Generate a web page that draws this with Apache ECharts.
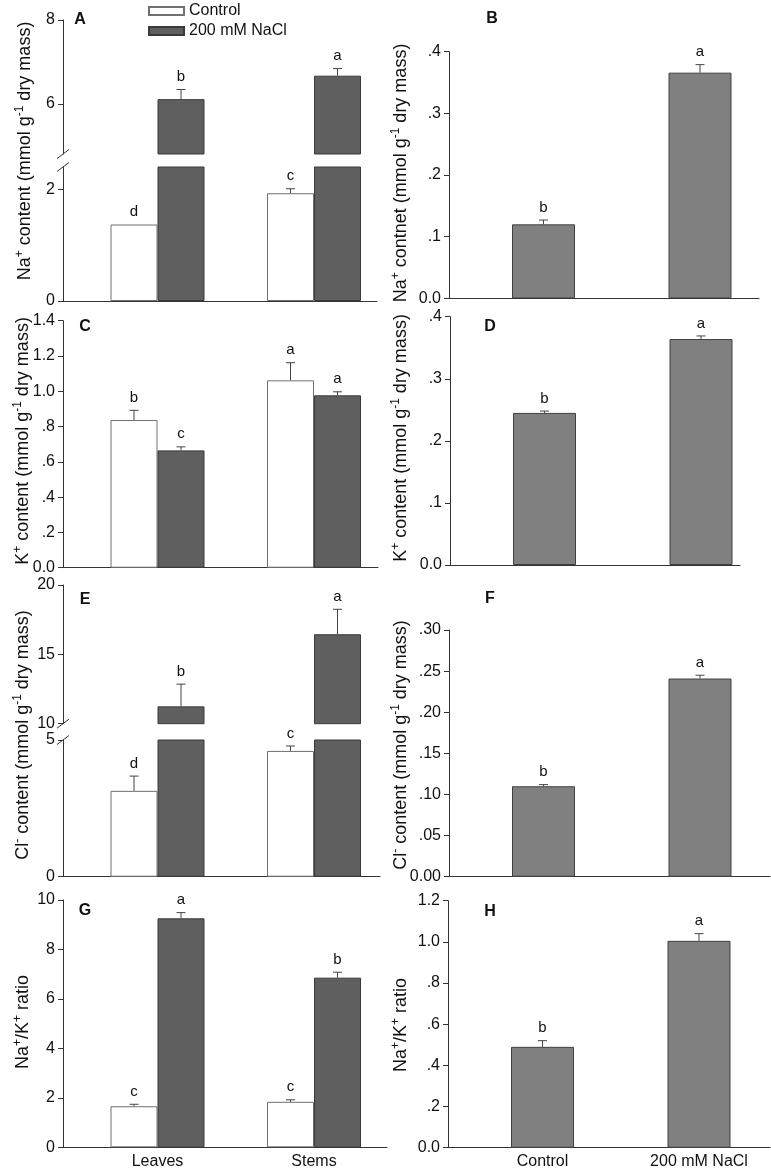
<!DOCTYPE html>
<html><head><meta charset="utf-8">
<script src="https://cdn.jsdelivr.net/npm/echarts@6/dist/echarts.min.js"></script>
<style>html,body{margin:0;padding:0;background:#fff}#c{width:771px;height:1171px}</style>
</head><body><div id="c"></div>
<script>
// ---------------- data ----------------
const organs = ['Leaves', 'Stems'];
const treatments = ['Control', '200 mM NaCl'];

// A: Na+ content in leaves / stems
const naControl = [1.37, 1.93];
const naControlErr = [0.0, 0.08];
const naControlLetters = ['d', 'c'];
const naSalt = [6.11, 6.67];
const naSaltErr = [0.23, 0.17];
const naSaltLetters = ['b', 'a'];
// B: Na+ content (whole), control vs NaCl
const naWhole = [0.120, 0.366];
const naWholeErr = [0.007, 0.013];
const naWholeLetters = ['b', 'a'];
// C: K+ content
const kControl = [0.837, 1.062];
const kControlErr = [0.055, 0.10];
const kControlLetters = ['b', 'a'];
const kSalt = [0.665, 0.977];
const kSaltErr = [0.02, 0.02];
const kSaltLetters = ['c', 'a'];
// D
const kWhole = [0.245, 0.364];
const kWholeErr = [0.003, 0.005];
const kWholeLetters = ['b', 'a'];
// E: Cl- content
const clControl = [3.14, 4.60];
const clControlErr = [0.54, 0.18];
const clControlLetters = ['d', 'c'];
const clSalt = [11.25, 16.45];
const clSaltErr = [1.6, 1.8];
const clSaltLetters = ['b', 'a'];
// F
const clWhole = [0.110, 0.241];
const clWholeErr = [0.002, 0.004];
const clWholeLetters = ['b', 'a'];
// G: Na+/K+ ratio
const ratioControl = [1.66, 1.84];
const ratioControlErr = [0.08, 0.08];
const ratioControlLetters = ['c', 'c'];
const ratioSalt = [9.26, 6.86];
const ratioSaltErr = [0.23, 0.22];
const ratioSaltLetters = ['a', 'b'];
// H
const ratioWhole = [0.49, 1.005];
const ratioWholeErr = [0.03, 0.035];
const ratioWholeLetters = ['b', 'a'];

// tick values
const ticksAUpper = [6, 8];
const ticksALower = [0, 2];
const ticksB = [0, 0.1, 0.2, 0.3, 0.4];
const ticksC = [0, 0.2, 0.4, 0.6, 0.8, 1.0, 1.2, 1.4];
const ticksD = [0, 0.1, 0.2, 0.3, 0.4];
const ticksEUpper = [10, 15, 20];
const ticksELower = [0, 5];
const ticksF = [0, 0.05, 0.10, 0.15, 0.20, 0.25, 0.30];
const ticksG = [0, 2, 4, 6, 8, 10];
const ticksH = [0, 0.2, 0.4, 0.6, 0.8, 1.0, 1.2];

// ---------------- styling ----------------
const FONT = '"Liberation Sans", Arial, sans-serif';
const TXT = '#111';
const AX = '#333';
const UNIT = 156.5;      // px per category step
const FIRST = 94.5;      // px from y axis to first category centre
const STY = {
  control: {color: '#ffffff', borderColor: '#707070', borderWidth: 1},
  salt: {color: '#5f5f5f', borderColor: '#3a3a3a', borderWidth: 1},
  whole: {color: '#808080', borderColor: '#404040', borderWidth: 1}
};

const nameNa = 'Na{sup|+} content (mmol g{sup|-1} dry mass)';
const nameNaB = 'Na{sup|+} contnet (mmol g{sup|-1} dry mass)';
const nameK = 'K{sup|+} content (mmol g{sup|-1} dry mass)';
const nameCl = 'Cl{sup|-} content (mmol g{sup|-1} dry mass)';
const nameR = 'Na{sup|+}/K{sup|+} ratio';

const panels = [
  {id: 'A', left: 63, width: 314, dec: 0, bw: 47, lab: [80, 20], name: nameNa, nameXY: [25, 151],
   segs: [{top: 20, height: 134, min: 4.8, max: 8, ticks: ticksAUpper},
          {top: 167, height: 134, min: 0, max: 2.4, ticks: ticksALower}],
   series: [{name: treatments[0], v: naControl, e: naControlErr, l: naControlLetters, s: STY.control},
            {name: treatments[1], v: naSalt, e: naSaltErr, l: naSaltLetters, s: STY.salt}]},
  {id: 'B', left: 449, width: 310, dec: 1, bw: 63, lab: [492, 19], name: nameNaB, nameXY: [401, 173],
   segs: [{top: 51.7, height: 246.6, min: 0, max: 0.4, ticks: ticksB}],
   series: [{name: 'whole', v: naWhole, e: naWholeErr, l: naWholeLetters, s: STY.whole}]},
  {id: 'C', left: 63, width: 315, dec: 1, bw: 47, lab: [85, 327], name: nameK, nameXY: [23, 441],
   segs: [{top: 320.7, height: 247, min: 0, max: 1.4, ticks: ticksC}],
   series: [{name: treatments[0], v: kControl, e: kControlErr, l: kControlLetters, s: STY.control},
            {name: treatments[1], v: kSalt, e: kSaltErr, l: kSaltLetters, s: STY.salt}]},
  {id: 'D', left: 450, width: 290, dec: 1, bw: 63, lab: [490, 327], name: nameK, nameXY: [401, 438],
   segs: [{top: 316.7, height: 248.3, min: 0, max: 0.4, ticks: ticksD}],
   series: [{name: 'whole', v: kWhole, e: kWholeErr, l: kWholeLetters, s: STY.whole}]},
  {id: 'E', left: 63, width: 317, dec: 0, bw: 47, lab: [85, 600], name: nameCl, nameXY: [23, 735],
   segs: [{top: 585, height: 138.7, min: 10, max: 20, ticks: ticksEUpper},
          {top: 740, height: 136.7, min: 0, max: 5, ticks: ticksELower}],
   series: [{name: treatments[0], v: clControl, e: clControlErr, l: clControlLetters, s: STY.control},
            {name: treatments[1], v: clSalt, e: clSaltErr, l: clSaltLetters, s: STY.salt}]},
  {id: 'F', left: 449, width: 321, dec: 2, bw: 63, lab: [490, 599], name: nameCl, nameXY: [401, 745],
   segs: [{top: 630, height: 246.7, min: 0, max: 0.30, ticks: ticksF}],
   series: [{name: 'whole', v: clWhole, e: clWholeErr, l: clWholeLetters, s: STY.whole}]},
  {id: 'G', left: 63, width: 324, dec: 0, bw: 47, lab: [85, 911], name: nameR, nameXY: [23, 1022], xcats: organs,
   segs: [{top: 900, height: 247.3, min: 0, max: 10, ticks: ticksG}],
   series: [{name: treatments[0], v: ratioControl, e: ratioControlErr, l: ratioControlLetters, s: STY.control},
            {name: treatments[1], v: ratioSalt, e: ratioSaltErr, l: ratioSaltLetters, s: STY.salt}]},
  {id: 'H', left: 448, width: 322, dec: 1, bw: 63, lab: [490, 912], name: nameR, nameXY: [401, 1025], xcats: treatments,
   segs: [{top: 900.7, height: 247, min: 0, max: 1.2, ticks: ticksH}],
   series: [{name: 'whole', v: ratioWhole, e: ratioWholeErr, l: ratioWholeLetters, s: STY.whole}]}
];

function fmt(v, dec) {
  if (Math.abs(v) < 1e-9) return (0).toFixed(dec);
  const s = v.toFixed(dec);
  return Math.abs(v) < 1 ? s.replace(/^0/, '') : s;
}

const grids = [], xAxes = [], yAxes = [], series = [];
const breaks = [];
panels.forEach(p => {
  const xMin = 1 - FIRST / UNIT;
  const xMax = xMin + p.width / UNIT;
  const n = p.series.length;
  p.gridIdx = [];
  p.segs.forEach((sg, si) => {
    const gi = grids.length;
    p.gridIdx.push(gi);
    const isBottom = si === p.segs.length - 1;
    grids.push({left: p.left, top: sg.top, width: p.width, height: sg.height, containLabel: false});
    xAxes.push({
      type: 'value', gridIndex: gi, min: xMin, max: xMax, show: true,
      axisLine: {show: isBottom, onZero: false, lineStyle: {color: AX, width: 1}},
      axisTick: {show: false}, splitLine: {show: false},
      axisLabel: p.xcats && isBottom ? {
        show: true, customValues: [1, 2], margin: 6,
        formatter: v => p.xcats[Math.round(v) - 1],
        fontFamily: FONT, fontSize: 16, color: TXT
      } : {show: false}
    });
    yAxes.push({
      type: 'value', gridIndex: gi, min: sg.min, max: sg.max,
      axisLine: {show: true, lineStyle: {color: AX, width: 1}},
      axisTick: {show: true, customValues: sg.ticks, length: 5, inside: false, lineStyle: {color: AX}},
      axisLabel: {show: true, customValues: sg.ticks, margin: 8, formatter: v => fmt(v, p.dec),
                  fontFamily: FONT, fontSize: 16, color: TXT},
      splitLine: {show: false}
    });
    p.series.forEach((s, k) => {
      series.push({
        type: 'bar', name: s.name, xAxisIndex: gi, yAxisIndex: gi,
        data: s.v.map((v, i) => [i + 1, v]),
        barWidth: p.bw, barGap: '0%', itemStyle: s.s, clip: true, silent: true
      });
      // error bars + letters for bars whose top lies in this segment
      const off = (k - (n - 1) / 2) * p.bw;
      const pts = [], lets = [];
      s.v.forEach((v, i) => {
        if (v >= sg.min && v <= sg.max) { pts.push([i + 1, v, s.e[i]]); lets.push(s.l[i]); }
      });
      if (pts.length) {
        series.push({
          type: 'custom', name: 'err-' + p.id + si + k, xAxisIndex: gi, yAxisIndex: gi,
          data: pts, clip: false, silent: true, z: 5,
          renderItem: (params, api) => {
            const x = api.value(0), v = api.value(1), e = api.value(2);
            const a = api.coord([x, v]), b = api.coord([x, v + e]);
            const cx = a[0] + off;
            const kids = [];
            if (e > 0) {
              kids.push({type: 'line', shape: {x1: cx, y1: a[1], x2: cx, y2: b[1]}, style: {stroke: '#444', lineWidth: 1}});
              kids.push({type: 'line', shape: {x1: cx - 4.5, y1: b[1], x2: cx + 4.5, y2: b[1]}, style: {stroke: '#444', lineWidth: 1}});
            }
            kids.push({type: 'text', x: cx, y: b[1] - 5, style: {text: lets[params.dataIndex], fill: TXT,
                fontFamily: FONT, fontSize: 15, align: 'center', verticalAlign: 'bottom'}});
            return {type: 'group', children: kids};
          }
        });
      }
    });
  });
  if (p.segs.length === 2) breaks.push(p);
});

const chart = echarts.init(document.getElementById('c'), null, {renderer: 'canvas'});
chart.setOption({
  animation: false,
  backgroundColor: '#fff',
  grid: grids, xAxis: xAxes, yAxis: yAxes, series: series,
  legend: {
    data: treatments, orient: 'vertical', left: 143, top: -2, itemWidth: 35, itemHeight: 8, itemGap: 4,
    icon: 'rect', selectedMode: false,
    textStyle: {fontFamily: FONT, fontSize: 16, color: TXT, lineHeight: 16}
  }
});

// graphics: panel letters, axis names, axis-break marks
const gfx = [];
panels.forEach(p => {
  gfx.push({type: 'text', x: p.lab[0], y: p.lab[1], style: {text: p.id, fill: TXT, fontFamily: FONT,
    fontSize: 16, fontWeight: 'bold', align: 'center', verticalAlign: 'middle'}});
  gfx.push({type: 'text', x: p.nameXY[0], y: p.nameXY[1], rotation: Math.PI / 2,
    style: {text: p.name, fill: TXT, fontFamily: FONT, fontSize: 18, lineHeight: 22,
      align: 'center', verticalAlign: 'middle',
      rich: {sup: {fontSize: 12, lineHeight: 10, verticalAlign: 'top', fontFamily: FONT, fill: TXT}}}});
});
breaks.forEach(p => {
  const xMin = 1 - FIRST / UNIT;
  const up = chart.convertToPixel({gridIndex: p.gridIdx[0]}, [xMin, p.segs[0].min]);
  const lo = chart.convertToPixel({gridIndex: p.gridIdx[1]}, [xMin, p.segs[1].max]);
  [up, lo].forEach(pt => {
    gfx.push({type: 'line', shape: {x1: pt[0] - 6, y1: pt[1] + 4.5, x2: pt[0] + 6, y2: pt[1] - 4.5},
      style: {stroke: '#333', lineWidth: 1}});
  });
});
chart.setOption({graphic: gfx});
</script></body></html>
